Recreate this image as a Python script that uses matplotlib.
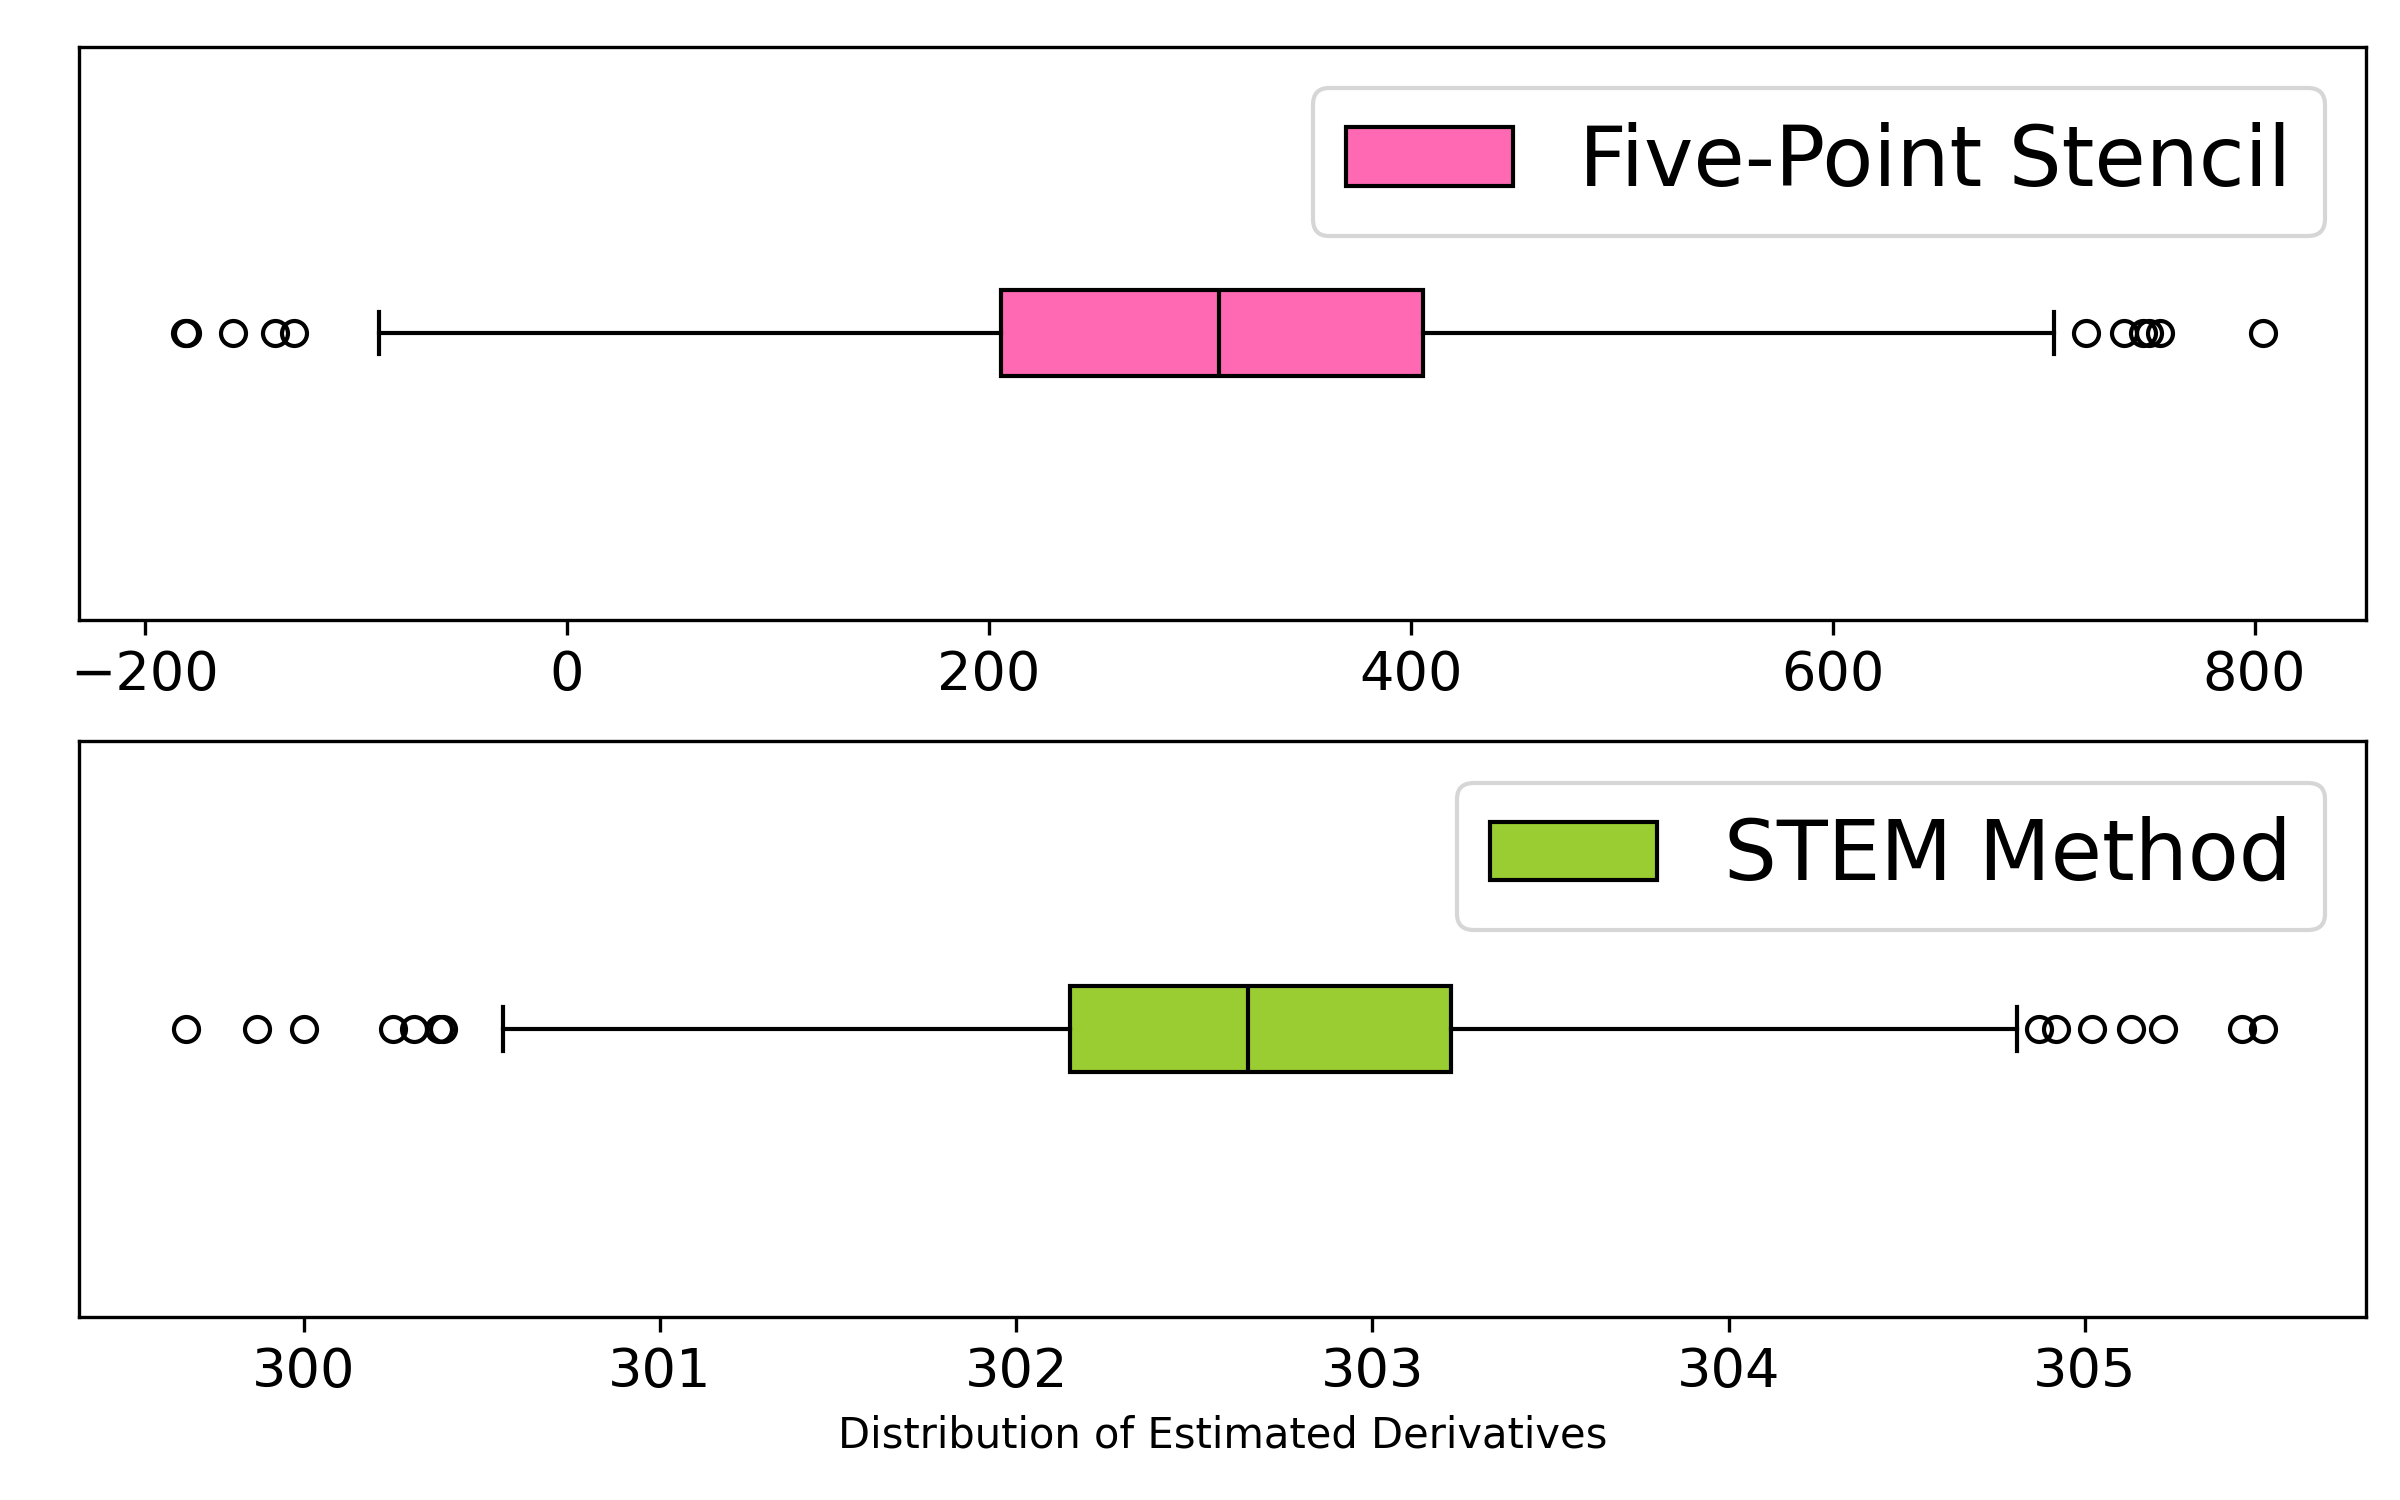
import matplotlib
matplotlib.use("Agg")
import matplotlib.pyplot as plt

labels = ["Five-Point Stencil", "STEM Method"]
colors = ["#ff69b4", "#9acd32"]
whislo = [-89, 300.56]
q1 = [206, 302.15]
med = [309, 302.65]
q3 = [406, 303.22]
whishi = [705, 304.81]
fliers = [
    [-181, -180, -158, -138, -129, 720, 738, 747, 750, 755, 804],
    [299.67, 299.87, 300.0, 300.25, 300.31, 300.38, 300.39,
     304.87, 304.92, 305.02, 305.13, 305.22, 305.44, 305.50],
]
xlims = [(-231, 853), (299.37, 305.79)]

fig = plt.figure(figsize=(8, 5), dpi=300)
rects = [[0.033, 0.587, 0.953, 0.382], [0.033, 0.122, 0.953, 0.384]]
for i in range(2):
    ax = fig.add_axes(rects[i])
    st = [dict(whislo=whislo[i], q1=q1[i], med=med[i], q3=q3[i],
               whishi=whishi[i], fliers=fliers[i])]
    bp = ax.bxp(st, orientation="horizontal", widths=0.15, patch_artist=True,
                boxprops=dict(facecolor=colors[i], edgecolor="black"),
                medianprops=dict(color="black"),
                flierprops=dict(marker="o", markerfacecolor="none",
                                markeredgecolor="black", markersize=6))
    ax.set_yticks([])
    ax.set_xlim(*xlims[i])
    ax.set_ylim(0.5, 1.5)
    ax.tick_params(axis="x", labelsize=13)
    ax.legend([bp["boxes"][0]], [labels[i]], loc="upper right", fontsize=20)
    if i == 1:
        ax.set_xlabel("Distribution of Estimated Derivatives", fontsize=10)
fig.savefig("out.png", dpi=300)
